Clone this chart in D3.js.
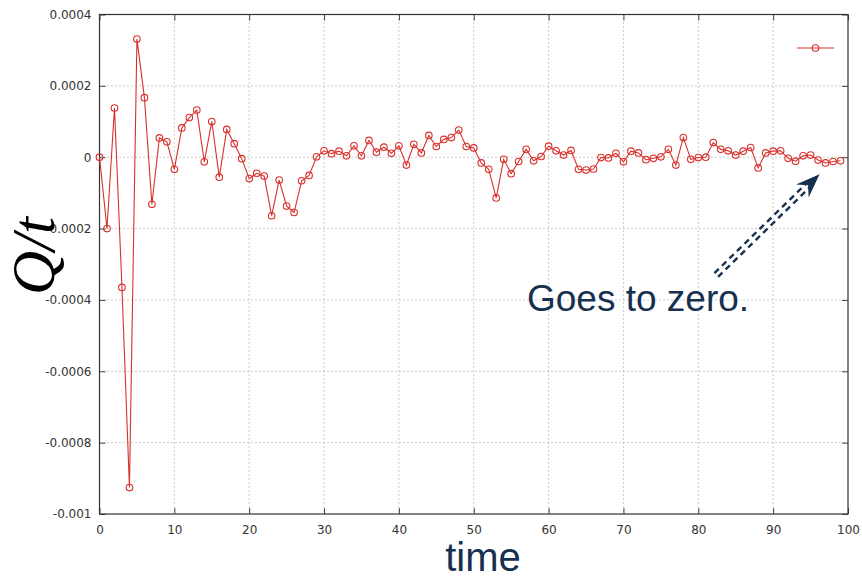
<!DOCTYPE html>
<html><head><meta charset="utf-8">
<script src="https://cdn.jsdelivr.net/npm/d3@7/dist/d3.min.js"></script>
<style>body{margin:0;background:#fff}svg{display:block}</style>
</head><body>
<svg id="c" width="862" height="580"></svg>
<script>
const times = d3.range(0, 100);
const values = [
 0, -0.000200, 0.000138, -0.000365, -0.000926, 0.000331, 0.000167, -0.000132, 0.000054, 0.000043,
 -0.000034, 0.000082, 0.000111, 0.000132, -0.000013, 0.000100, -0.000056, 0.000078, 0.000038, -0.000004,
 -0.000060, -0.000045, -0.000053, -0.000164, -0.000064, -0.000137, -0.000155, -0.000066, -0.000051, 0.000001,
 0.000018, 0.000010, 0.000017, 0.000004, 0.000032, 0.000004, 0.000047, 0.000014, 0.000028, 0.000011,
 0.000032, -0.000022, 0.000036, 0.000012, 0.000061, 0.000030, 0.000050, 0.000055, 0.000076, 0.000030,
 0.000026, -0.000016, -0.000034, -0.000114, -0.000006, -0.000046, -0.000012, 0.000022, -0.000010, 0.000002,
 0.000031, 0.000018, 0.000006, 0.000019, -0.000034, -0.000036, -0.000033, -0.000001, -0.000002, 0.000011,
 -0.000013, 0.000017, 0.000012, -0.000007, -0.000003, 0.000001, 0.000022, -0.000022, 0.000055, -0.000006,
 -0.000001, 0.000000, 0.000041, 0.000022, 0.000018, 0.000006, 0.000017, 0.000027, -0.000030, 0.000012,
 0.000017, 0.000018, -0.000003, -0.000011, 0.000004, 0.000006, -0.000008, -0.000016, -0.000012, -0.000010
];
const xTicks = [0,10,20,30,40,50,60,70,80,90,100];
const yTicks = [0.0004,0.0002,0,-0.0002,-0.0004,-0.0006,-0.0008,-0.001];
const yTickLabels = ["0.0004","0.0002","0","-0.0002","-0.0004","-0.0006","-0.0008","-0.001"];
const annotationText = "Goes to zero.";
const arrowFrom = [82.4, -0.00033];
const arrowTo = [96.2, -0.0000476];

const svg = d3.select("#c");
const L = 99.5, R = 848, T = 14.5, B = 514;
const x = d3.scaleLinear().domain([0,100]).range([L,R]);
const y = d3.scaleLinear().domain([-0.001,0.0004]).range([B,T]);

const red = "#d9302c";
const navy = "#17304f";

// grid
const g = svg.append("g");
g.selectAll(".gx").data(xTicks.slice(1,-1)).join("line")
  .attr("x1",d=>x(d)).attr("x2",d=>x(d)).attr("y1",T).attr("y2",B)
  .attr("stroke","#999").attr("stroke-width",1).attr("stroke-dasharray","1,3");
g.selectAll(".gy").data(yTicks.slice(1,-1)).join("line")
  .attr("y1",d=>y(d)).attr("y2",d=>y(d)).attr("x1",L).attr("x2",R)
  .attr("stroke","#999").attr("stroke-width",1).attr("stroke-dasharray","1,3");

// axes (inward ticks, mirrored)
const fmtY = d => yTickLabels[yTicks.indexOf(d)] ?? d;
svg.append("g").attr("transform",`translate(0,${B})`)
  .call(d3.axisBottom(x).tickValues(xTicks).tickSize(-6).tickPadding(11).tickSizeOuter(0))
  .call(a=>{a.select(".domain").remove();});
svg.append("g").attr("transform",`translate(0,${T})`)
  .call(d3.axisTop(x).tickValues(xTicks).tickSize(-6).tickFormat("").tickSizeOuter(0))
  .call(a=>{a.select(".domain").remove();});
svg.append("g").attr("transform",`translate(${L},0)`)
  .call(d3.axisLeft(y).tickValues(yTicks).tickFormat(fmtY).tickSize(-6).tickPadding(8).tickSizeOuter(0))
  .call(a=>{a.select(".domain").remove();});
svg.append("g").attr("transform",`translate(${R},0)`)
  .call(d3.axisRight(y).tickValues(yTicks).tickFormat("").tickSize(-6).tickSizeOuter(0))
  .call(a=>{a.select(".domain").remove();});
svg.selectAll(".tick line").attr("stroke","#444");
svg.selectAll(".tick text").attr("fill","#333").style("font-family","'DejaVu Sans', sans-serif").style("font-size","12px");

// frame
svg.append("rect").attr("x",L).attr("y",T).attr("width",R-L).attr("height",B-T)
  .attr("fill","none").attr("stroke","#333").attr("stroke-width",1.2);

// data
const data = times.map((t,i)=>({t, v: values[i]}));
svg.append("path").datum(data)
  .attr("d", d3.line().x(d=>x(d.t)).y(d=>y(d.v)))
  .attr("fill","none").attr("stroke",red).attr("stroke-width",1.1);
svg.selectAll(".pt").data(data).join("circle")
  .attr("cx",d=>x(d.t)).attr("cy",d=>y(d.v)).attr("r",3.3)
  .attr("fill","none").attr("stroke",red).attr("stroke-width",1.1);

// legend
svg.append("line").attr("x1",797).attr("x2",834).attr("y1",48).attr("y2",48)
  .attr("stroke",red).attr("stroke-width",1.1);
svg.append("circle").attr("cx",815.5).attr("cy",48).attr("r",3.3)
  .attr("fill","none").attr("stroke",red).attr("stroke-width",1.1);

// labels
svg.append("text").attr("x",483).attr("y",571).attr("text-anchor","middle")
  .attr("fill",navy).style("font-family","'Liberation Sans', Arial, sans-serif").style("font-size","40px")
  .text("time");
svg.append("text").attr("transform","translate(54,256) rotate(-90)").attr("text-anchor","middle")
  .attr("fill","#000").style("font-family","'Liberation Serif', serif").style("font-style","italic").style("font-size","61px")
  .text("Q/t");
svg.append("text").attr("x",527).attr("y",311)
  .attr("fill",navy).style("font-family","'Liberation Sans', Arial, sans-serif").style("font-size","37px")
  .text(annotationText);

// arrow
const x0 = x(arrowFrom[0]), y0 = y(arrowFrom[1]), x1 = x(arrowTo[0]), y1 = y(arrowTo[1]);
const dx = x1-x0, dy = y1-y0, len = Math.hypot(dx,dy), ux = dx/len, uy = dy/len;
const px = -uy, py = ux;
const headLen = 24;
const ex = x1 - ux*(headLen-8), ey = y1 - uy*(headLen-8);
[-2.6, 2.6].forEach(o=>{
  svg.append("line").attr("x1",x0+px*o).attr("y1",y0+py*o).attr("x2",ex+px*o).attr("y2",ey+py*o)
    .attr("stroke",navy).attr("stroke-width",2.4).attr("stroke-dasharray","6,4.5");
});
const bx = x1 - ux*headLen, by = y1 - uy*headLen;
const nx = x1 - ux*(headLen-8), ny = y1 - uy*(headLen-8);
const hw = 9;
svg.append("path").attr("d",
  `M${x1},${y1} L${bx+px*hw},${by+py*hw} L${nx},${ny} L${bx-px*hw},${by-py*hw} Z`)
  .attr("fill",navy);
</script>
</body></html>
